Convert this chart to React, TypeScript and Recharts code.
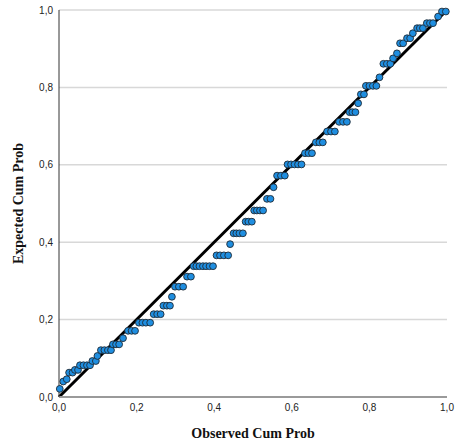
import React from "react";
import {
  ScatterChart,
  Scatter,
  XAxis,
  YAxis,
  CartesianGrid,
  ReferenceLine,
} from "recharts";

const observed: number[] = [
  0.002, 0.011, 0.02, 0.026, 0.035, 0.041, 0.049, 0.054, 0.063, 0.072, 0.08,
  0.086, 0.095, 0.099, 0.108, 0.117, 0.126, 0.134, 0.139, 0.147, 0.155, 0.165,
  0.178, 0.187, 0.196, 0.206, 0.215, 0.224, 0.235, 0.244, 0.253, 0.262, 0.269,
  0.278, 0.286, 0.291, 0.299, 0.309, 0.32, 0.33, 0.34, 0.347, 0.354, 0.362,
  0.371, 0.379, 0.388, 0.397, 0.406, 0.415, 0.425, 0.436, 0.441, 0.45, 0.457,
  0.465, 0.474, 0.481, 0.488, 0.497, 0.503, 0.51, 0.518, 0.526, 0.536, 0.545,
  0.553, 0.562, 0.572, 0.582, 0.589, 0.598, 0.607, 0.616, 0.625, 0.634, 0.643,
  0.652, 0.662, 0.671, 0.68, 0.691, 0.701, 0.711, 0.722, 0.732, 0.742, 0.749,
  0.756, 0.764, 0.771, 0.778, 0.786, 0.791, 0.8, 0.809, 0.818, 0.826, 0.836,
  0.845, 0.854, 0.861, 0.871, 0.879, 0.887, 0.897, 0.905, 0.912, 0.923, 0.93,
  0.938, 0.948, 0.956, 0.964, 0.977, 0.987, 0.997,
];

const expected: number[] = [
  0.021, 0.04, 0.046, 0.063, 0.063, 0.07, 0.07, 0.082, 0.082, 0.082, 0.082,
  0.093, 0.093, 0.106, 0.121, 0.121, 0.121, 0.121, 0.136, 0.136, 0.136, 0.152,
  0.171, 0.171, 0.171, 0.192, 0.192, 0.192, 0.192, 0.214, 0.214, 0.214, 0.236,
  0.236, 0.236, 0.259, 0.285, 0.285, 0.285, 0.311, 0.311, 0.338, 0.338, 0.338,
  0.338, 0.338, 0.338, 0.338, 0.366, 0.366, 0.366, 0.366, 0.395, 0.423, 0.423,
  0.423, 0.423, 0.453, 0.453, 0.453, 0.482, 0.482, 0.482, 0.482, 0.512, 0.512,
  0.542, 0.572, 0.572, 0.572, 0.601, 0.601, 0.601, 0.601, 0.601, 0.63, 0.63,
  0.63, 0.658, 0.658, 0.658, 0.686, 0.686, 0.686, 0.711, 0.711, 0.711, 0.736,
  0.736, 0.736, 0.759, 0.782, 0.782, 0.804, 0.804, 0.804, 0.804, 0.826, 0.861,
  0.861, 0.861, 0.875, 0.888, 0.914, 0.914, 0.927, 0.927, 0.94, 0.953, 0.953,
  0.953, 0.966, 0.966, 0.966, 0.983, 0.996, 0.996,
];

const axisTicks: number[] = [0, 0.2, 0.4, 0.6, 0.8, 1.0];

const data = observed.map((x, i) => ({ x, y: expected[i] }));

const fmt = (v: number) => v.toFixed(1).replace(".", ",");

const Dot = (props: any) => {
  const { cx, cy } = props;
  if (cx == null || cy == null) return null;
  return (
    <circle cx={cx} cy={cy} r={3.4} fill="#1f8ee0" stroke="#1e2a36" strokeWidth={0.9} />
  );
};

export default function App() {
  return (
    <div style={{ position: "absolute", left: 0, top: 0, width: 455, height: 441, background: "#fff" }}>
      <ScatterChart
        width={455}
        height={441}
        margin={{ top: 10, right: 8, bottom: 0, left: 0 }}
      >
        <CartesianGrid
          vertical={false}
          stroke="#d8d8d8"
          strokeWidth={1.5}
          horizontalValues={[0.2, 0.4, 0.6, 0.8, 1.0]}
        />
        <XAxis
          type="number"
          dataKey="x"
          domain={[0, 1]}
          ticks={axisTicks}
          tickFormatter={fmt}
          tickLine={false}
          tickSize={0}
          tickMargin={7}
          height={44}
          axisLine={{ stroke: "#9a9a9a", strokeWidth: 2 }}
          tick={{ fill: "#222", fontSize: 10, fontFamily: "Liberation Sans" }}
          interval={0}
          label={{
            value: "Observed Cum Prob",
            position: "insideBottom",
            offset: 3,
            style: {
              fontFamily: "Liberation Serif",
              fontWeight: "bold",
              fontSize: 14,
              fill: "#111",
            },
          }}
        />
        <YAxis
          type="number"
          dataKey="y"
          domain={[0, 1]}
          ticks={axisTicks}
          tickFormatter={fmt}
          tickLine={false}
          tickSize={0}
          tickMargin={6}
          width={59}
          axisLine={{ stroke: "#333", strokeWidth: 1 }}
          tick={{ fill: "#222", fontSize: 10, fontFamily: "Liberation Sans" }}
          interval={0}
          label={{
            value: "Expected Cum Prob",
            angle: -90,
            position: "insideLeft",
            offset: 18,
            style: {
              textAnchor: "middle",
              fontFamily: "Liberation Serif",
              fontWeight: "bold",
              fontSize: 14,
              fill: "#111",
            },
          }}
        />
        <Scatter data={data} shape={<Dot />} isAnimationActive={false} />
        <ReferenceLine
          segment={[
            { x: 0, y: 0 },
            { x: 1, y: 1 },
          ]}
          stroke="#000"
          strokeWidth={3}
          ifOverflow="visible"
        />
      </ScatterChart>
    </div>
  );
}
